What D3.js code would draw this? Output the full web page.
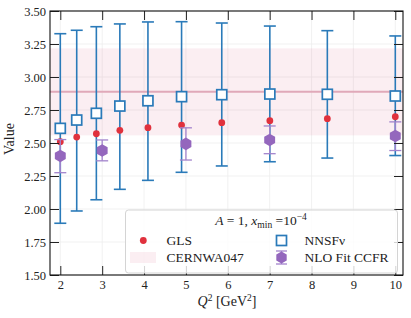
<!DOCTYPE html>
<html><head><meta charset="utf-8">
<script src="https://cdn.jsdelivr.net/npm/d3@7"></script>
<style>
html,body{margin:0;padding:0;background:#fff;}
</style></head>
<body><svg id="c" width="411" height="318"></svg>
<script>
// ---- data ----
const q2 = [2.0, 2.392, 2.861, 3.422, 4.093, 4.896, 5.856, 7.004, 8.377, 10.0];
const nnsfValue = [2.611, 2.674, 2.725, 2.780, 2.820, 2.851, 2.866, 2.871, 2.869, 2.856];
const nnsfUpper = [3.328, 3.354, 3.381, 3.402, 3.417, 3.419, 3.409, 3.386, 3.351, 3.311];
const nnsfLower = [1.892, 1.985, 2.070, 2.149, 2.217, 2.278, 2.326, 2.358, 2.386, 2.405];
const glsValue = [2.510, 2.545, 2.570, 2.596, 2.616, 2.636, 2.654, 2.669, 2.684, 2.699];
const ccfrQ2 = [2, 3, 5, 7, 10];
const ccfrValue = [2.402, 2.443, 2.493, 2.523, 2.553];
const ccfrUpper = [2.526, 2.523, 2.615, 2.629, 2.660];
const ccfrLower = [2.275, 2.365, 2.371, 2.419, 2.443];
const cernCentral = 2.889;
const cernLow = 2.558;
const cernHigh = 3.217;
const xTicks = [2, 3, 4, 5, 6, 7, 8, 9, 10];
const yTicks = [1.50, 1.75, 2.00, 2.25, 2.50, 2.75, 3.00, 3.25, 3.50];
const legendLabels = ["GLS", "CERNWA047", "NNSF\u03bd", "NLO Fit CCFR"];

// ---- layout ----
const FONT = "'Liberation Serif', 'DejaVu Serif', serif";
const L = 50, R = 403, T = 11, B = 275;
const svg = d3.select("#c");
const x = d3.scaleLinear().domain([1.754, 10.184]).range([L, R]);
const y = d3.scaleLinear().domain([1.5, 3.5]).range([B, T]);
const blue = "#2a7ab9", red = "#e0313d", purple = "#9467bd";

// grid
const g = svg.append("g");
g.selectAll(".gx").data(xTicks).join("line")
  .attr("x1", d => x(d)).attr("x2", d => x(d)).attr("y1", T).attr("y2", B)
  .attr("stroke", "#ededed").attr("stroke-width", 0.8);
g.selectAll(".gy").data(yTicks).join("line")
  .attr("y1", d => y(d)).attr("y2", d => y(d)).attr("x1", L).attr("x2", R)
  .attr("stroke", "#ededed").attr("stroke-width", 0.8);

// CERN band
svg.append("rect").attr("x", L).attr("width", R - L)
  .attr("y", y(cernHigh)).attr("height", y(cernLow) - y(cernHigh))
  .attr("fill", "#d6547c").attr("fill-opacity", 0.1);
svg.append("line").attr("x1", L).attr("x2", R)
  .attr("y1", y(cernCentral)).attr("y2", y(cernCentral))
  .attr("stroke", "#e0a9b9").attr("stroke-width", 2);

// NNSF error bars
const nn = q2.map((q, i) => ({q, v: nnsfValue[i], lo: nnsfLower[i], hi: nnsfUpper[i]}));
const eb = svg.append("g").attr("stroke", blue).attr("stroke-width", 1.6);
eb.selectAll(".v").data(nn).join("line")
  .attr("x1", d => x(d.q)).attr("x2", d => x(d.q)).attr("y1", d => y(d.lo)).attr("y2", d => y(d.hi));
eb.selectAll(".ct").data(nn).join("line")
  .attr("x1", d => x(d.q) - 6).attr("x2", d => x(d.q) + 6).attr("y1", d => y(d.hi)).attr("y2", d => y(d.hi));
eb.selectAll(".cb").data(nn).join("line")
  .attr("x1", d => x(d.q) - 6).attr("x2", d => x(d.q) + 6).attr("y1", d => y(d.lo)).attr("y2", d => y(d.lo));
svg.append("g").selectAll("rect").data(nn).join("rect")
  .attr("x", d => x(d.q) - 5).attr("y", d => y(d.v) - 5).attr("width", 10).attr("height", 10)
  .attr("fill", "#fff").attr("stroke", blue).attr("stroke-width", 1.7);

// GLS
svg.append("g").selectAll("circle").data(q2.map((q, i) => ({q, v: glsValue[i]}))).join("circle")
  .attr("cx", d => x(d.q)).attr("cy", d => y(d.v)).attr("r", 3.4).attr("fill", red);

// CCFR
const hex = (cx, cy, r) => d3.range(6).map(k => {
  const a = Math.PI / 2 + k * Math.PI / 3;
  return [cx + r * Math.cos(a), cy - r * Math.sin(a)];
}).join(" ");
const cc = ccfrQ2.map((q, i) => ({q, v: ccfrValue[i], lo: ccfrLower[i], hi: ccfrUpper[i]}));
const pb = svg.append("g").attr("stroke", "#a283cc").attr("stroke-width", 1.3);
pb.selectAll(".v").data(cc).join("line")
  .attr("x1", d => x(d.q)).attr("x2", d => x(d.q)).attr("y1", d => y(d.lo)).attr("y2", d => y(d.hi));
pb.selectAll(".ct").data(cc).join("line")
  .attr("x1", d => x(d.q) - 6).attr("x2", d => x(d.q) + 6).attr("y1", d => y(d.hi)).attr("y2", d => y(d.hi));
pb.selectAll(".cb").data(cc).join("line")
  .attr("x1", d => x(d.q) - 6).attr("x2", d => x(d.q) + 6).attr("y1", d => y(d.lo)).attr("y2", d => y(d.lo));
svg.append("g").selectAll("polygon").data(cc).join("polygon")
  .attr("points", d => hex(x(d.q), y(d.v), 6.3)).attr("fill", purple);

// axes (inward ticks on all four sides)
const fmt = d3.format(".2f");
svg.append("g").attr("transform", `translate(0,${B})`)
  .call(d3.axisBottom(x).tickValues(xTicks).tickSizeInner(-9).tickSizeOuter(0).tickPadding(5).tickFormat(d3.format("d")));
svg.append("g").attr("transform", `translate(0,${T})`)
  .call(d3.axisTop(x).tickValues(xTicks).tickSizeInner(-9).tickSizeOuter(0).tickFormat(""));
svg.append("g").attr("transform", `translate(${L},0)`)
  .call(d3.axisLeft(y).tickValues(yTicks).tickSizeInner(-9).tickSizeOuter(0).tickPadding(4).tickFormat(fmt));
svg.append("g").attr("transform", `translate(${R},0)`)
  .call(d3.axisRight(y).tickValues(yTicks).tickSizeInner(-9).tickSizeOuter(0).tickFormat(""));
svg.selectAll(".domain").remove();
svg.selectAll(".tick line").attr("stroke", "#222").attr("stroke-width", 1);
svg.selectAll(".tick text").style("font-family", FONT).style("font-size", "12.5px").attr("fill", "#222");

// legend
const lg = svg.append("g").style("font-family", FONT);
lg.append("rect").attr("x", 125.5).attr("y", 210).attr("width", 272).attr("height", 63).attr("rx", 3)
  .attr("fill", "#fff").attr("fill-opacity", 0.8).attr("stroke", "#d4d4d4").attr("stroke-width", 1);
const tt = lg.append("text").attr("x", 261).attr("y", 225).attr("text-anchor", "middle").style("font-size", "13.5px").attr("fill", "#222");
tt.append("tspan").attr("font-style", "italic").text("A");
tt.append("tspan").text(" = 1, ");
tt.append("tspan").attr("font-style", "italic").text("x");
tt.append("tspan").style("font-size", "9.5px").attr("dy", 2.5).text("min");
tt.append("tspan").attr("dy", -2.5).text(" =10");
tt.append("tspan").style("font-size", "9.5px").attr("dy", -5).text("\u22124");
const r1 = 240.5, r2 = 257.5;
lg.append("circle").attr("cx", 143.3).attr("cy", r1).attr("r", 3.4).attr("fill", red);
lg.append("rect").attr("x", 130).attr("y", r2 - 5.5).attr("width", 26).attr("height", 11)
  .attr("fill", "#d6547c").attr("fill-opacity", 0.1);
lg.append("rect").attr("x", 281.5 - 5).attr("y", r1 - 5).attr("width", 10).attr("height", 10)
  .attr("fill", "#fff").attr("stroke", blue).attr("stroke-width", 1.7);
lg.append("line").attr("x1", 281.5).attr("x2", 281.5).attr("y1", r2 - 6.5).attr("y2", r2 + 6.5)
  .attr("stroke", "#a283cc").attr("stroke-width", 1.3);
lg.append("line").attr("x1", 276).attr("x2", 287).attr("y1", r2 - 6.5).attr("y2", r2 - 6.5).attr("stroke", "#a283cc").attr("stroke-width", 1.3);
lg.append("line").attr("x1", 276).attr("x2", 287).attr("y1", r2 + 6.5).attr("y2", r2 + 6.5).attr("stroke", "#a283cc").attr("stroke-width", 1.3);
lg.append("polygon").attr("points", hex(281.5, r2, 6)).attr("fill", purple);
const lt = [[166.5, r1, legendLabels[0]], [166.5, r2, legendLabels[1]], [304.5, r1, legendLabels[2]], [304.5, r2, legendLabels[3]]];
lg.selectAll(".lt").data(lt).join("text")
  .attr("x", d => d[0]).attr("y", d => d[1] + 4.6).style("font-size", "13.5px").attr("fill", "#222").text(d => d[2]);

// frame
svg.append("rect").attr("x", L).attr("y", T).attr("width", R - L).attr("height", B - T)
  .attr("fill", "none").attr("stroke", "#111").attr("stroke-width", 1.1);

// axis labels
const xl = svg.append("text").attr("x", 227).attr("y", 306).attr("text-anchor", "middle")
  .style("font-family", FONT).style("font-size", "14px").attr("fill", "#222");
xl.append("tspan").attr("font-style", "italic").text("Q");
xl.append("tspan").style("font-size", "9.5px").attr("dy", -5).text("2");
xl.append("tspan").attr("dy", 5).text(" [GeV");
xl.append("tspan").style("font-size", "9.5px").attr("dy", -5).text("2");
xl.append("tspan").attr("dy", 5).text("]");
svg.append("text").attr("transform", "translate(14,139) rotate(-90)").attr("text-anchor", "middle")
  .style("font-family", FONT).style("font-size", "14px").attr("fill", "#222").text("Value");
</script></body></html>
